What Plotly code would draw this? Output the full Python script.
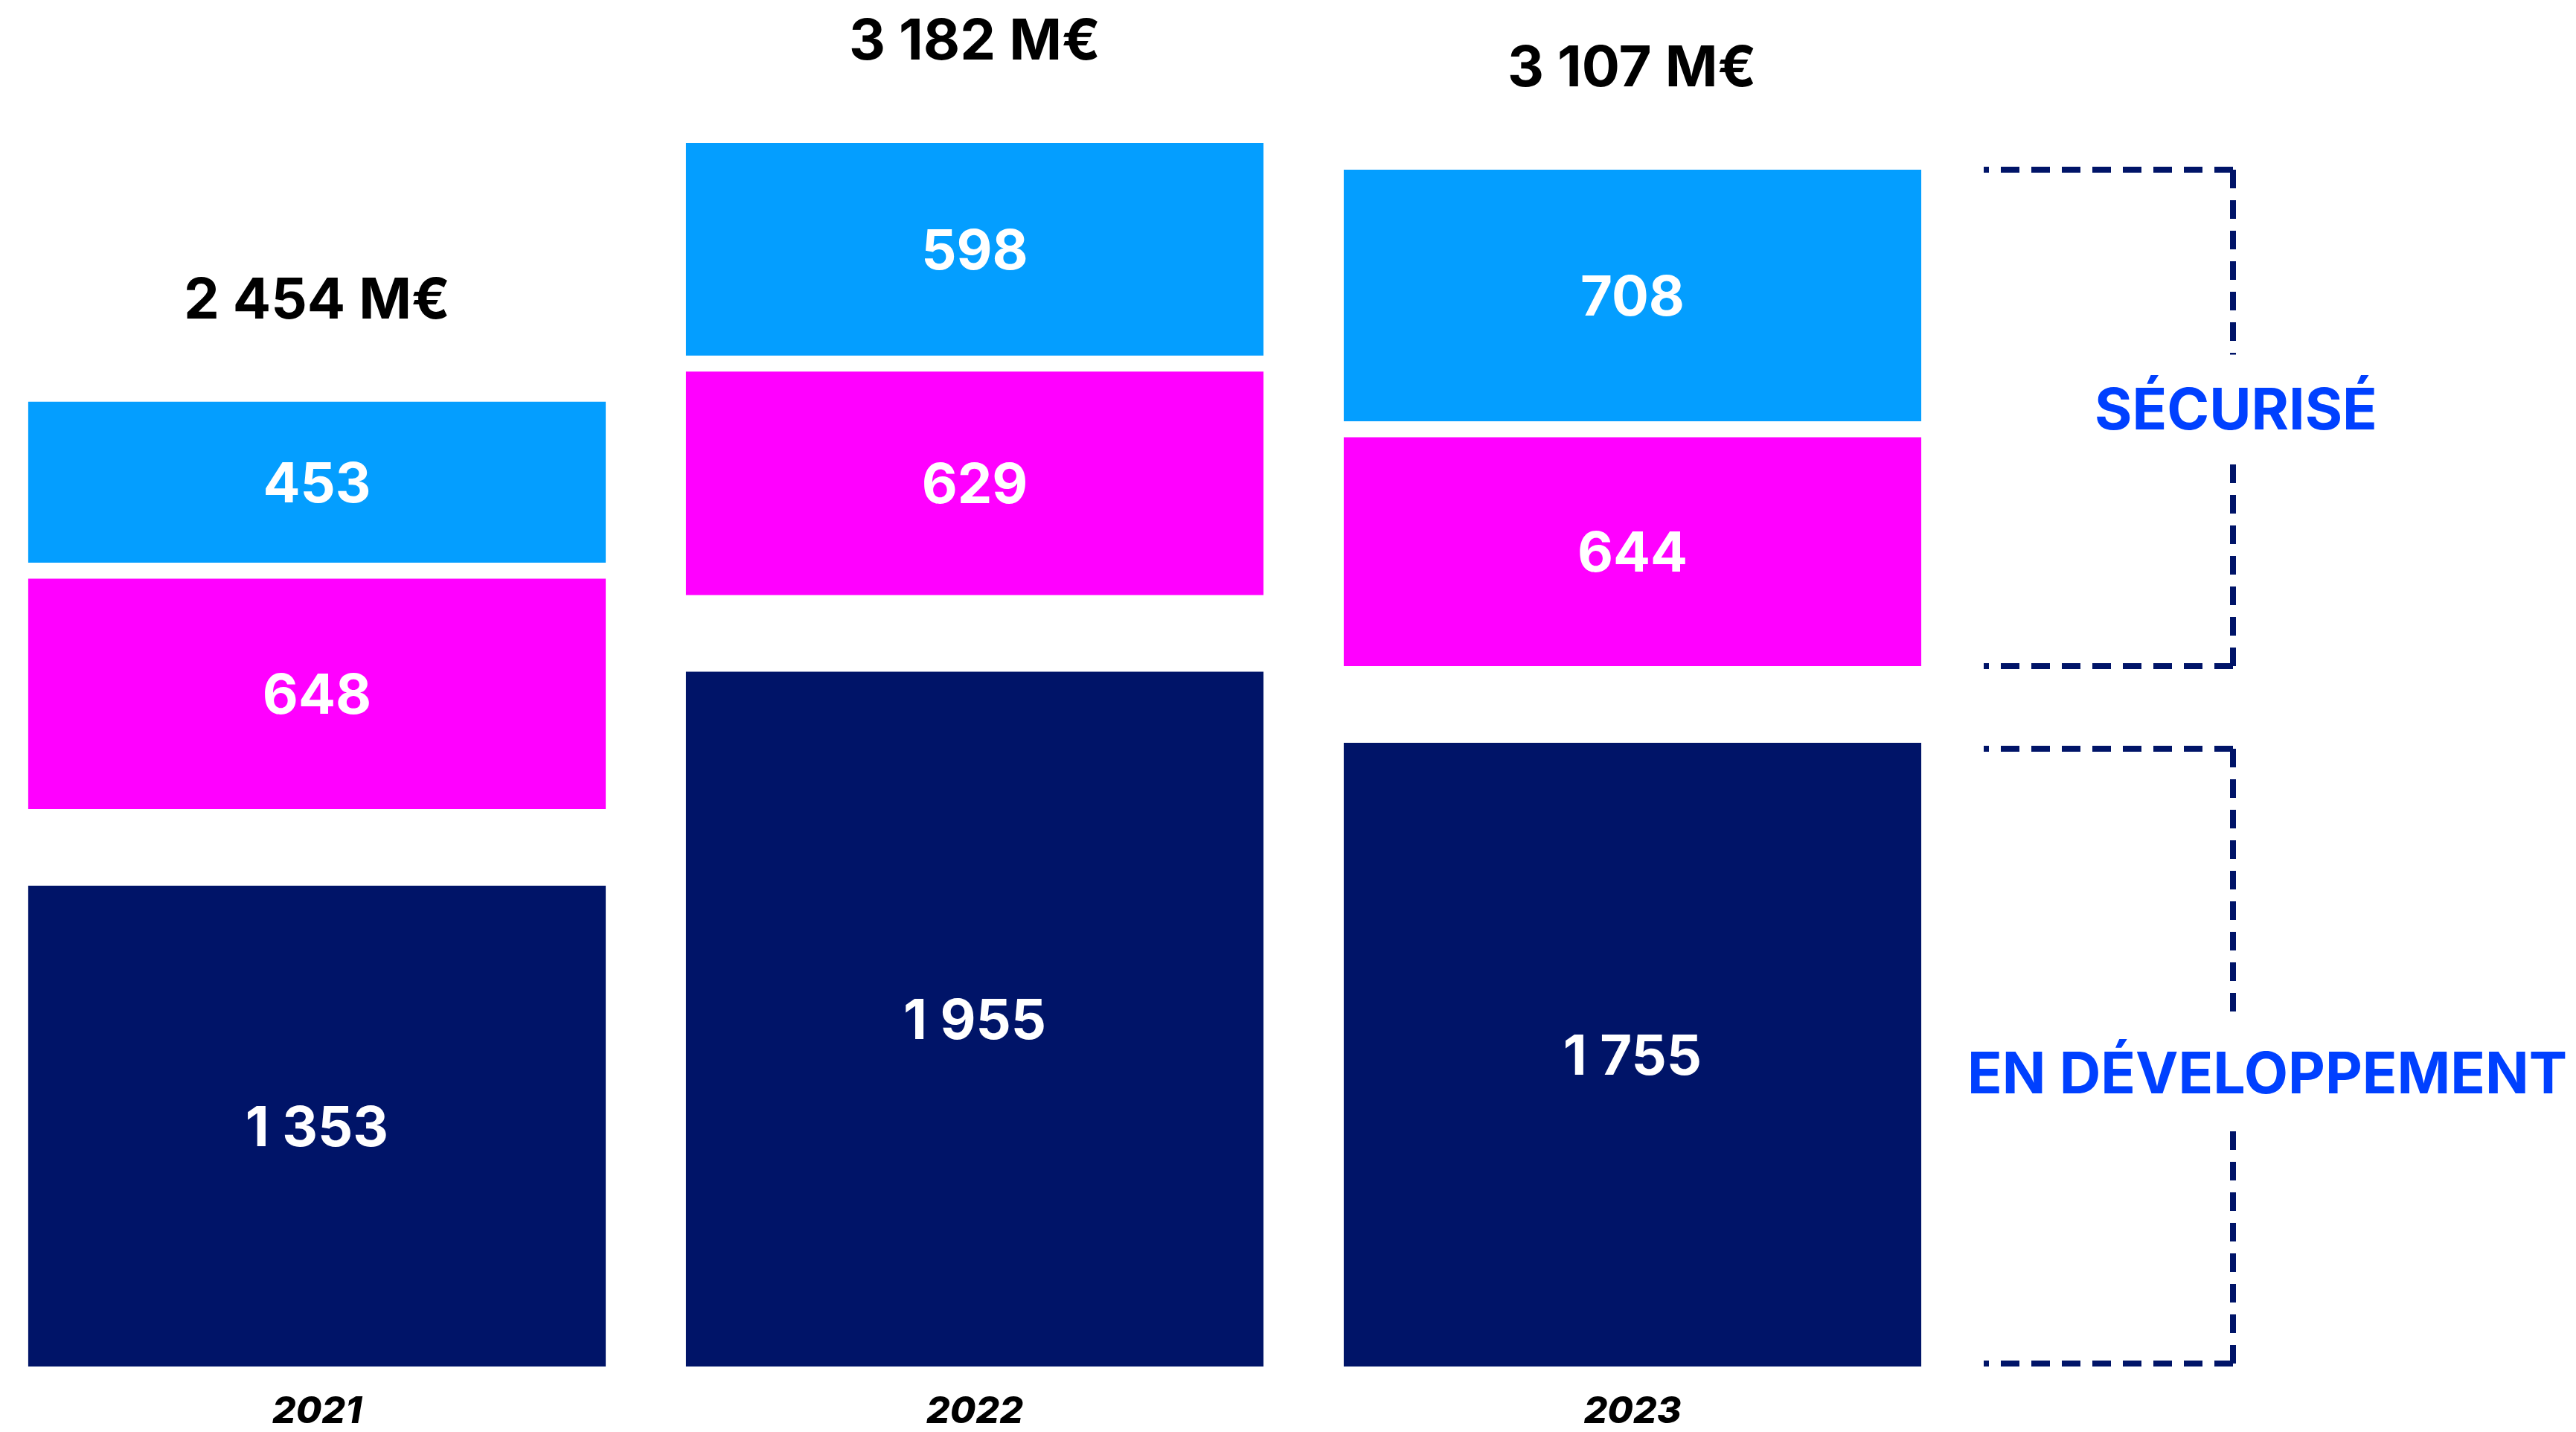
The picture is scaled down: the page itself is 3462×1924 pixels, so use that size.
import plotly.graph_objects as go

# ---------------- data ----------------
years = ["2021", "2022", "2023"]
en_developpement = [1353, 1955, 1755]   # navy (bottom)
securise_mag = [648, 629, 644]          # magenta
securise_blue = [453, 598, 708]         # light blue (top)
label_securise = "SÉCURISÉ"
label_dev = "EN DÉVELOPPEMENT"

# ---------------- style ----------------
NAVY = "#001468"
MAGENTA = "#FF00FF"
BLUE = "#049EFF"
TEXT_BLUE = "#0040FF"
FONT = "Inter"

W, H = 3462, 1924
MB = 88
PLOT_H = H - MB
Y_MAX = 3845
PX = PLOT_H / Y_MAX           # pixels per unit
GAP_L = 103 / PX              # gap between navy and magenta
GAP_S = 21.5 / PX             # gap between magenta and blue
BAR_W = 0.878
X_RANGE = [-0.4819, 3.4344]


def fmt(v):
    return f"{v:,}".replace(",", "\u00a0")


mag_base = [n + GAP_L for n in en_developpement]
blue_base = [m + v + GAP_S for m, v in zip(mag_base, securise_mag)]
tops = [b + v for b, v in zip(blue_base, securise_blue)]
totals = [a + b + c for a, b, c in zip(en_developpement, securise_mag, securise_blue)]

fig = go.Figure()
label_font = dict(family=FONT, size=74, color="white", weight=700)
for vals, base, col in [
    (en_developpement, [0, 0, 0], NAVY),
    (securise_mag, mag_base, MAGENTA),
    (securise_blue, blue_base, BLUE),
]:
    fig.add_trace(go.Bar(
        x=years, y=vals, base=base, width=BAR_W,
        marker=dict(color=col, line=dict(width=0)),
        text=[fmt(v) for v in vals], textposition="inside",
        insidetextanchor="middle", textfont=label_font,
        hoverinfo="skip", cliponaxis=False,
    ))

# total labels
for i, (t, tot) in enumerate(zip(tops, totals)):
    fig.add_annotation(
        x=i, y=t, xref="x", yref="y", text=f"{fmt(tot)} M€",
        showarrow=False, yanchor="middle", yshift=140,
        font=dict(family=FONT, size=76, color="black", weight=700),
    )

# brackets (attached to the last year's bar)
XL, XR = 2666 / W, 3001 / W
dash = dict(color=NAVY, width=8, dash="25px,16px")
HALF_GAP = 73 / PX

def bracket(top, bottom, text_y, text, text_x):
    fig.add_shape(type="line", xref="paper", yref="y", x0=XR, x1=XL, y0=top, y1=top, line=dash)
    fig.add_shape(type="line", xref="paper", yref="y", x0=XR, x1=XL, y0=bottom, y1=bottom, line=dash)
    fig.add_shape(type="line", xref="paper", yref="y", x0=XR, x1=XR, y0=top, y1=text_y + HALF_GAP, line=dash)
    fig.add_shape(type="line", xref="paper", yref="y", x0=XR, x1=XR, y0=bottom, y1=text_y - HALF_GAP, line=dash)
    fig.add_annotation(
        x=text_x, y=text_y, xref="paper", yref="y", text=text, showarrow=False,
        xanchor="center", yanchor="middle",
        font=dict(family=FONT, size=77, color=TEXT_BLUE, weight=700),
    )

i = 2
top1, bot1 = tops[i], mag_base[i]
bracket(top1, bot1, (top1 + bot1) / 2 + 12 / PX, label_securise, 3005 / W)
top2, bot2 = en_developpement[i] - 8 / PX, 4 / PX
bracket(top2, bot2, (top2 + bot2) / 2 - 22 / PX, label_dev, 3047 / W)

fig.update_layout(
    width=W, height=H,
    margin=dict(l=0, r=0, t=0, b=MB, autoexpand=False),
    paper_bgcolor="white", plot_bgcolor="white",
    showlegend=False, barmode="overlay",
    xaxis=dict(type="category", categoryarray=years, range=X_RANGE,
               showgrid=False, zeroline=False, showline=False, ticks="",
               automargin=False, ticklabelstandoff=25,
               tickfont=dict(family=FONT, size=50, color="black", weight=800, style="italic")),
    yaxis=dict(range=[0, Y_MAX], visible=False, automargin=False),
)

fig.write_html("out.html")
